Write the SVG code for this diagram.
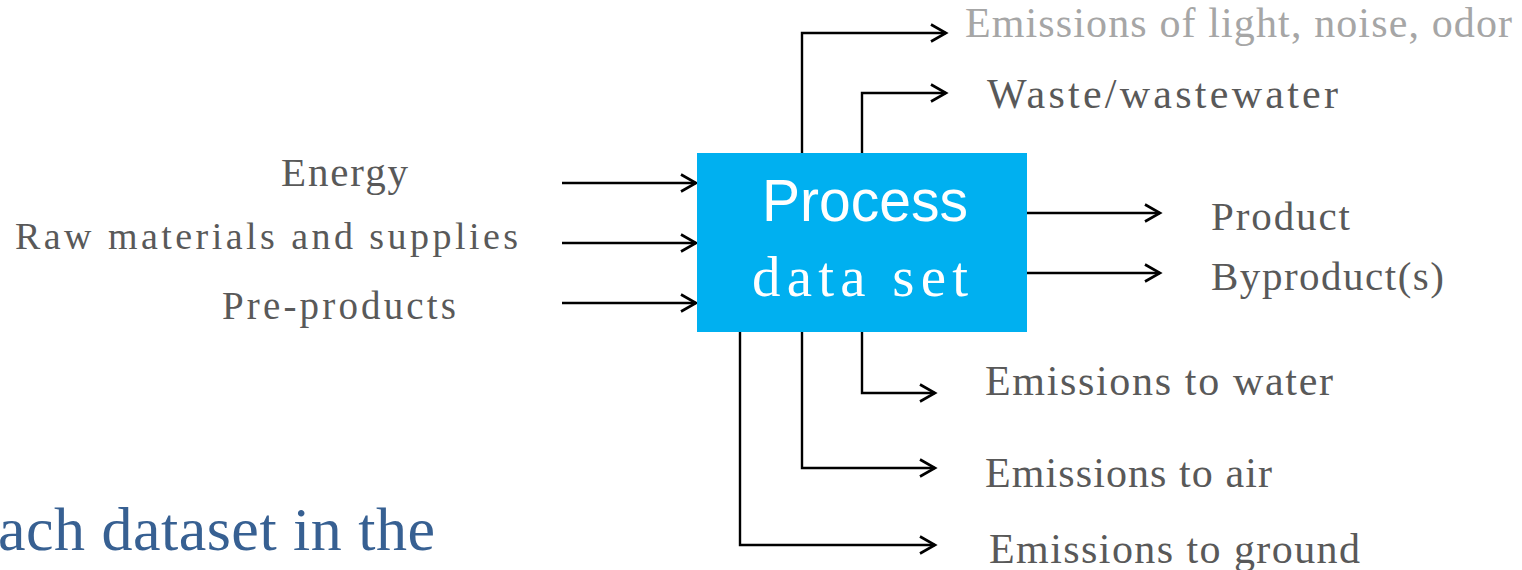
<svg xmlns="http://www.w3.org/2000/svg" width="1522" height="570" viewBox="0 0 1522 570">
  <defs>
    <style>
      .lbl { font-family: "Liberation Serif", "Times New Roman", serif; fill: #595959; }
      .light { fill: #A6A6A6; }
      .conn { fill: none; stroke: #000; stroke-width: 2.4; stroke-linejoin: miter; }
      .blue { font-family: "Liberation Serif", "Times New Roman", serif; fill: #376092; font-size: 62px; }
    </style>
    <marker id="arr" markerUnits="userSpaceOnUse" markerWidth="22" markerHeight="22" viewBox="0 0 22 22" refX="19" refY="11" orient="auto">
      <polyline points="4,2.5 19,11 4,19.5" fill="none" stroke="#000" stroke-width="2.6"/>
    </marker>
  </defs>
  <rect width="1522" height="570" fill="#fff"/>

  <g id="connectors">
    <line class="conn" x1="562" y1="183" x2="696" y2="183" marker-end="url(#arr)"/>
    <line class="conn" x1="562" y1="243" x2="696" y2="243" marker-end="url(#arr)"/>
    <line class="conn" x1="562" y1="303" x2="696" y2="303" marker-end="url(#arr)"/>
    <line class="conn" x1="1027" y1="213" x2="1160" y2="213" marker-end="url(#arr)"/>
    <line class="conn" x1="1027" y1="273" x2="1160" y2="273" marker-end="url(#arr)"/>
    <polyline class="conn" points="802,153 802,33 946,33" marker-end="url(#arr)"/>
    <polyline class="conn" points="862,153 862,93 946,93" marker-end="url(#arr)"/>
    <polyline class="conn" points="862,332 862,393 935,393" marker-end="url(#arr)"/>
    <polyline class="conn" points="802,332 802,468 935,468" marker-end="url(#arr)"/>
    <polyline class="conn" points="740,332 740,545 935,545" marker-end="url(#arr)"/>
  </g>

  <g id="process">
    <rect x="697" y="153" width="330" height="179" fill="#00B0F0"/>
    <text x="762" y="221" font-family="'Liberation Sans', Arial, sans-serif" font-size="60" fill="#fff" textLength="206" lengthAdjust="spacingAndGlyphs">Process</text>
    <text x="752" y="296" font-family="'Liberation Serif', 'Times New Roman', serif" font-size="57" fill="#fff" textLength="216" lengthAdjust="spacing">data set</text>
  </g>

  <g id="in-energy"><text class="lbl" x="281" y="186" font-size="41" textLength="127" lengthAdjust="spacing">Energy</text></g>
  <g id="in-raw"><text class="lbl" x="15" y="249" font-size="38" textLength="503" lengthAdjust="spacing">Raw materials and supplies</text></g>
  <g id="in-pre"><text class="lbl" x="222" y="319" font-size="39" textLength="234" lengthAdjust="spacing">Pre-products</text></g>

  <g id="out-light"><text class="lbl light" x="965" y="37" font-size="42" textLength="547" lengthAdjust="spacing">Emissions of light, noise, odor</text></g>
  <g id="out-waste"><text class="lbl" x="987" y="108" font-size="42" textLength="351" lengthAdjust="spacing">Waste/wastewater</text></g>
  <g id="out-product"><text class="lbl" x="1211" y="230" font-size="41" textLength="139" lengthAdjust="spacing">Product</text></g>
  <g id="out-byproduct"><text class="lbl" x="1211" y="290" font-size="41" textLength="233" lengthAdjust="spacing">Byproduct(s)</text></g>
  <g id="out-water"><text class="lbl" x="985" y="395" font-size="42" textLength="348" lengthAdjust="spacing">Emissions to water</text></g>
  <g id="out-air"><text class="lbl" x="985" y="487" font-size="42" textLength="287" lengthAdjust="spacing">Emissions to air</text></g>
  <g id="out-ground"><text class="lbl" x="989" y="563" font-size="42" textLength="371" lengthAdjust="spacing">Emissions to ground</text></g>

  <text class="blue" x="-2" y="550" textLength="437" lengthAdjust="spacing">ach dataset in the</text>
</svg>
